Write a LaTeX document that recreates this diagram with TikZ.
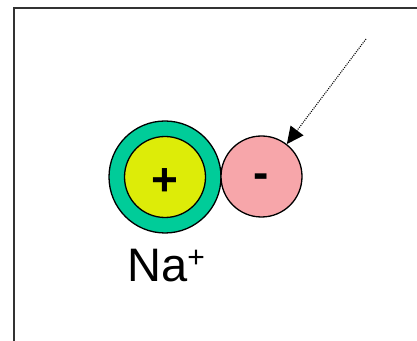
\documentclass[tikz,border=0pt]{standalone}
\usepackage{fontspec}
\setmainfont{Liberation Sans}
\usetikzlibrary{arrows.meta}
\definecolor{shellgreen}{RGB}{0,204,153}
\definecolor{coreyellow}{RGB}{221,236,8}
\definecolor{ionpink}{RGB}{247,166,170}
\definecolor{framegray}{RGB}{50,50,50}
\tikzset{
  ring/.style={circle,draw=black,line width=1.3pt,inner sep=0pt},
  lbl/.style={font=\fontsize{46}{46}\selectfont\bfseries,inner sep=0pt}
}
\begin{document}
\begin{tikzpicture}[x=1pt,y=1pt]
\useasboundingbox (0,0) rectangle (417,340);
\fill[white] (0,0) rectangle (417,340);
\draw[framegray,line width=2pt] (13.5,-5) -- (13.5,332) -- (425,332);
\node[ring,fill=shellgreen,minimum size=112pt] (shell) at (165,163) {};
\node[ring,fill=coreyellow,minimum size=81pt] (core) at (165,163) {};
\node[ring,fill=ionpink,minimum size=81pt] (anion) at (261.5,163.5) {};
\node[lbl] (plus) at (165,158) {+};
\node[lbl] (minus) at (261.5,159) {-};
\node[font=\fontsize{47}{47}\selectfont,inner sep=0pt,anchor=base west] (na) at (127,59) {Na\raisebox{0.55ex}{\fontsize{30}{30}\selectfont +}};
\coordinate (tail) at (366,301);
\draw[line width=1.1pt,dash pattern=on 1pt off 1.2pt,-{Triangle[length=17pt,width=16pt]}] (tail) -- (anion.52);
\end{tikzpicture}
\end{document}
